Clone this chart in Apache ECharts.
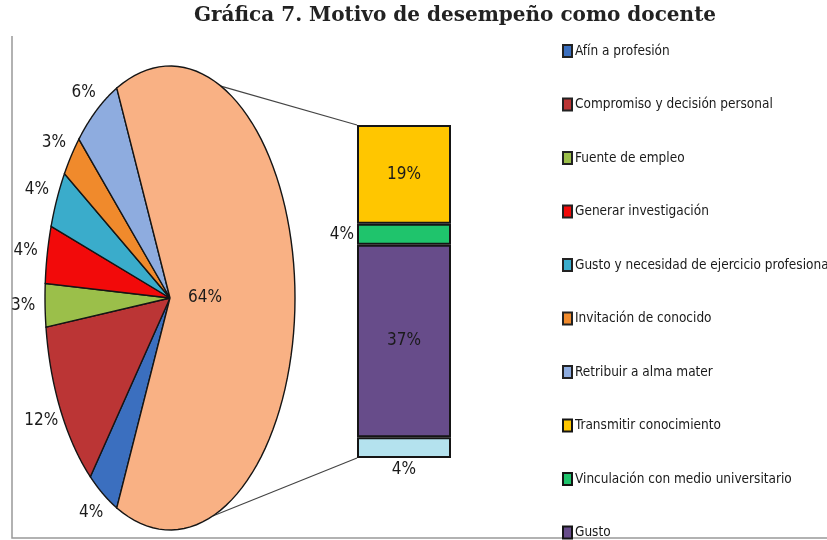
<!DOCTYPE html>
<html>
<head>
<meta charset="utf-8">
<script src="https://cdn.jsdelivr.net/npm/echarts@6/dist/echarts.min.js"></script>
<style>
  html, body { margin: 0; padding: 0; background: #fff; }
  #x1 { width: 827px; height: 540px; }
</style>
</head>
<body>
<div id="x1"></div>
<script>
// datos del pastel (porcentajes)
var pieNames = ['Afín a profesión', 'Compromiso y decisión personal', 'Fuente de empleo',
  'Generar investigación', 'Gusto y necesidad de ejercicio profesional',
  'Invitación de conocido', 'Retribuir a alma mater', 'Otros'];
var pieValues = [4, 12, 3, 4, 4, 3, 6, 64];
var pieColors = ['#3b6fbf', '#bb3535', '#9bbf4a', '#f20a0a', '#3aaccb', '#f08a2c', '#8eacdf', '#f9b184'];

// datos de la barra (desglose del 64%)
var barNames = ['Otro', 'Gusto', 'Vinculación con medio universitario', 'Transmitir conocimiento'];
var barValues = [4, 37, 4, 19];
var barColors = ['#b4e2ee', '#674c8a', '#1fc46c', '#ffc600'];

var legendNames = ['Afín a profesión', 'Compromiso y decisión personal', 'Fuente de empleo',
  'Generar investigación', 'Gusto y necesidad de ejercicio profesional', 'Invitación de conocido',
  'Retribuir a alma mater', 'Transmitir conocimiento', 'Vinculación con medio universitario', 'Gusto'];

var narrow = '"DejaVu Sans Condensed", "DejaVu Sans", sans-serif';
var labelFont = '17px ' + narrow;
var total = 0, cum = [0];
for (var i = 0; i < pieValues.length; i++) { total += pieValues[i]; cum.push(total); }
var startAng = -pieValues[pieValues.length - 1] / total * 360 / 2;

function sliceRender(idx) {
  return function (params, api) {
    var a1 = (startAng - cum[idx] / total * 360) * Math.PI / 180;
    var a2 = (startAng - cum[idx + 1] / total * 360) * Math.PI / 180;
    var c = api.coord([0, 0]);
    var pts = [c];
    var steps = 80;
    for (var k = 0; k <= steps; k++) {
      var t = a1 + (a2 - a1) * k / steps;
      pts.push(api.coord([Math.cos(t), Math.sin(t)]));
    }
    var m = (a1 + a2) / 2, lx, ly;
    if (idx === pieValues.length - 1) {
      var p0 = api.coord([0.28, 0]);
      lx = p0[0]; ly = p0[1];
    } else {
      var p = api.coord([Math.cos(m), Math.sin(m)]);
      lx = p[0] + 22 * Math.cos(m);
      ly = p[1] - 22 * Math.sin(m);
    }
    return {
      type: 'group',
      children: [{
        type: 'polygon',
        shape: { points: pts },
        style: { fill: pieColors[idx], stroke: '#151515', lineWidth: 1.4 }
      }, {
        type: 'text', x: lx, y: ly, z2: 10,
        style: { text: pieValues[idx] + '%', fill: '#1a1a1a', font: labelFont, align: 'center', verticalAlign: 'middle' }
      }]
    };
  };
}

var series = [];
for (var j = 0; j < pieValues.length; j++) {
  series.push({
    name: pieNames[j],
    type: 'custom',
    coordinateSystem: 'cartesian2d',
    xAxisIndex: 0, yAxisIndex: 0,
    clip: false,
    silent: true,
    itemStyle: { color: pieColors[j], borderColor: '#222', borderWidth: 1 },
    renderItem: sliceRender(j),
    data: [[0, pieValues[j]]]
  });
}
var barLabelPos = ['bottom', 'inside', 'left', 'inside'];
for (var b = 0; b < barValues.length; b++) {
  series.push({
    name: barNames[b],
    type: 'bar',
    stack: 'desglose',
    xAxisIndex: 1, yAxisIndex: 1,
    barWidth: '100%',
    silent: true,
    itemStyle: { color: barColors[b], borderColor: '#151515', borderWidth: 2 },
    label: {
      show: true, position: barLabelPos[b], distance: 3,
      formatter: '{c}%', color: '#1a1a1a',
      fontFamily: narrow, fontSize: 17
    },
    data: [barValues[b]]
  });
}

var myChart = echarts.init(document.getElementById('x1'));
var option1 = {
  animation: false,
  title: {
    text: 'Gráfica 7. Motivo de desempeño como docente',
    left: 189, top: 1,
    textStyle: { fontFamily: '"DejaVu Serif", serif', fontWeight: 'bold', fontSize: 20, color: '#222' }
  },
  legend: {
    orient: 'vertical',
    left: 557, top: 38,
    height: 600,
    icon: 'rect',
    itemWidth: 9, itemHeight: 12,
    itemGap: 37.5,
    data: legendNames,
    selectedMode: false,
    textStyle: {
      fontFamily: narrow,
      fontSize: 13.5, color: '#1a1a1a', lineHeight: 16, padding: [0, 0, 0, -2]
    }
  },
  grid: [
    { left: 45, top: 66, width: 250, height: 464 },
    { left: 357, top: 125, width: 94, height: 333 }
  ],
  xAxis: [
    { type: 'value', gridIndex: 0, min: -1, max: 1, show: false },
    { type: 'category', gridIndex: 1, data: ['64%'], show: false }
  ],
  yAxis: [
    { type: 'value', gridIndex: 0, min: -1, max: 1, show: false },
    { type: 'value', gridIndex: 1, min: 0, max: 64, show: false }
  ],
  series: series
};
myChart.setOption(option1);

// líneas de conexión pastel -> barra y marco
var tA = 66 * Math.PI / 180, bA = -70 * Math.PI / 180;
var pTop = myChart.convertToPixel({ gridIndex: 0 }, [Math.cos(tA), Math.sin(tA)]);
var pBot = myChart.convertToPixel({ gridIndex: 0 }, [Math.cos(bA), Math.sin(bA)]);
var yTop = myChart.convertToPixel({ yAxisIndex: 1 }, 64);
var yBot = myChart.convertToPixel({ yAxisIndex: 1 }, 0);
myChart.setOption({
  graphic: [
    { type: 'line', shape: { x1: pTop[0], y1: pTop[1], x2: 357, y2: yTop }, style: { stroke: '#444', lineWidth: 1.2 }, z: -1 },
    { type: 'line', shape: { x1: pBot[0], y1: pBot[1], x2: 357, y2: yBot }, style: { stroke: '#444', lineWidth: 1.2 }, z: -1 },
    { type: 'polyline', shape: { points: [[12, 36], [12, 538], [827, 538]] }, style: { stroke: '#999', lineWidth: 1.5, fill: null } }
  ]
});
</script>
</body>
</html>
